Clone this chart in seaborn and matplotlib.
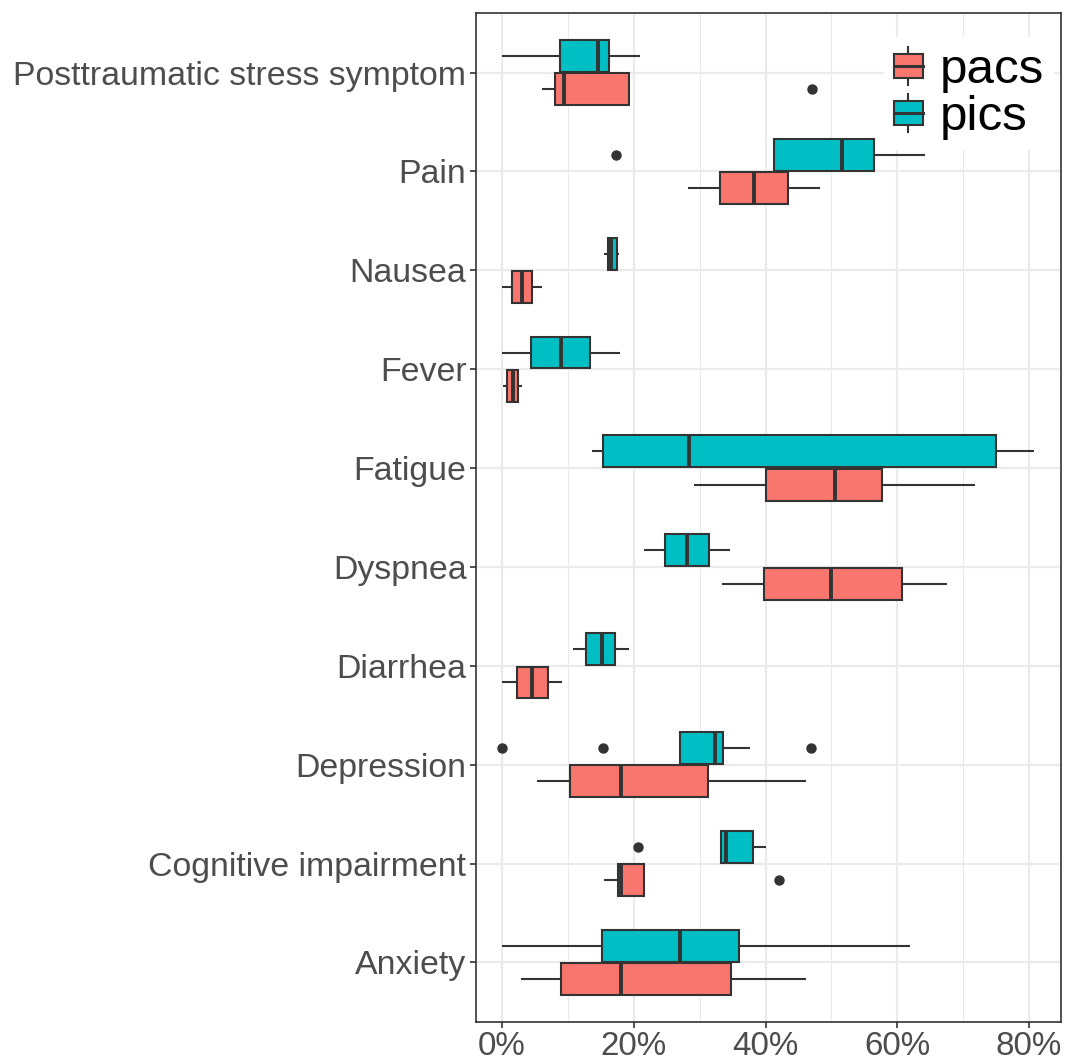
import matplotlib
matplotlib.use('Agg')
import matplotlib.pyplot as plt
import pandas as pd
import seaborn as sns
from matplotlib.legend_handler import HandlerBase
from matplotlib.patches import Patch, Rectangle
from matplotlib.lines import Line2D
from matplotlib.ticker import PercentFormatter

# Categories, top to bottom
symptoms = ['Posttraumatic stress symptom', 'Pain', 'Nausea', 'Fever', 'Fatigue',
            'Dyspnea', 'Diarrhea', 'Depression', 'Cognitive impairment', 'Anxiety']

# Box summaries (percent): whisker low, Q1, median, Q3, whisker high, outliers
pacs_low = [6.0, 28.2, 0.0, 0.2, 29.1, 33.4, 0.0, 5.3, 15.4, 2.9]
pacs_q1 = [8.0, 33.1, 1.5, 0.8, 40.0, 39.7, 2.2, 10.3, 17.6, 9.0]
pacs_med = [9.4, 38.3, 3.0, 1.6, 50.5, 50.0, 4.6, 18.0, 18.1, 18.1]
pacs_q3 = [19.3, 43.4, 4.6, 2.4, 57.7, 60.7, 6.9, 31.3, 21.5, 34.7]
pacs_high = [19.3, 48.3, 6.1, 3.0, 71.8, 67.6, 9.1, 46.2, 21.5, 46.1]
pacs_out = [[47.0], [], [], [], [], [], [], [], [42.0], []]

pics_low = [0.0, 41.2, 15.5, 0.0, 13.6, 21.6, 10.8, 27.0, 33.2, 0.0]
pics_q1 = [8.8, 41.2, 16.0, 4.4, 15.3, 24.8, 12.8, 27.0, 33.2, 15.1]
pics_med = [14.5, 51.6, 16.6, 8.9, 28.4, 28.1, 15.1, 32.3, 34.0, 27.0]
pics_q3 = [16.2, 56.5, 17.4, 13.4, 75.0, 31.4, 17.2, 33.5, 38.1, 35.9]
pics_high = [21.0, 64.2, 17.8, 17.9, 80.8, 34.6, 19.2, 37.6, 40.0, 61.9]
pics_out = [[], [17.3], [], [], [], [], [], [0.0, 15.3, 46.9], [20.6], []]

colors = {'pacs': '#F8766D', 'pics': '#00BFC4'}


def sample(lo, q1, med, q3, hi, outs):
    # 13 values whose quartiles (linear) land exactly on q1/med/q3
    below = sorted(v for v in outs if v < q1)
    above = sorted(v for v in outs if v > q3)
    return (below + [lo] * (3 - len(below)) + [q1] * 3 + [med] * 3 + [q3]
            + [hi] * (3 - len(above)) + above)


rows = []
for group, lo, q1, md, q3, hi, out in [
        ('pacs', pacs_low, pacs_q1, pacs_med, pacs_q3, pacs_high, pacs_out),
        ('pics', pics_low, pics_q1, pics_med, pics_q3, pics_high, pics_out)]:
    for i, s in enumerate(symptoms):
        for v in sample(lo[i], q1[i], md[i], q3[i], hi[i], out[i]):
            rows.append((s, group, v))
df = pd.DataFrame(rows, columns=['symptom', 'group', 'value'])

plt.rcParams['font.family'] = ['Liberation Sans', 'DejaVu Sans']

fig = plt.figure(figsize=(10.66, 10.62), dpi=100)
ax = fig.add_axes([475.5 / 1066, 1 - 1021.7 / 1062, (1061 - 475.5) / 1066, (1021.7 - 13.3) / 1062])

sns.boxplot(data=df, x='value', y='symptom', hue='group', order=symptoms,
            hue_order=['pics', 'pacs'], palette=colors, width=0.675, gap=0.045,
            linewidth=1.5, linecolor='#333333', showcaps=False, whis=1.5,
            fliersize=6.5, saturation=1,
            flierprops=dict(marker='o', markerfacecolor='#333333', markeredgecolor='#333333'),
            medianprops=dict(linewidth=2.8),
            legend=False, ax=ax)

ax.set_xlim(-4.04, 84.84)
ax.set_ylim(9.6, -0.6)
ax.set_xticks([0, 20, 40, 60, 80])
ax.set_xticks([10, 30, 50, 70], minor=True)
ax.xaxis.set_major_formatter(PercentFormatter(decimals=0))
ax.set_xlabel('')
ax.set_ylabel('')

ax.set_axisbelow(True)
ax.grid(which='major', color='#EBEBEB', linewidth=1.6)
ax.grid(which='minor', axis='x', color='#EBEBEB', linewidth=0.8)
ax.tick_params(which='major', length=4.5, width=1.2, color='#333333',
               labelcolor='#4D4D4D', pad=2)
ax.tick_params(axis='y', which='major', labelsize=24.4)
ax.tick_params(axis='x', which='major', labelsize=23.9)
ax.tick_params(which='minor', length=0)
for sp in ax.spines.values():
    sp.set_color('#333333')
    sp.set_linewidth(1.2)


class BoxKey(HandlerBase):
    def create_artists(self, legend, orig_handle, xdescent, ydescent, width, height, fontsize, trans):
        fc = orig_handle.get_facecolor()
        cx = width / 2 - xdescent
        bh = height * 0.64
        y0 = (height - bh) / 2 - ydescent
        whisk = Line2D([cx, cx], [-ydescent, height - ydescent], color='#333333', lw=1.5, transform=trans)
        box = Rectangle((-xdescent, y0), width, bh, facecolor=fc, edgecolor='#333333', lw=1.5, transform=trans)
        med = Line2D([-xdescent, width - xdescent], [y0 + bh / 2] * 2, color='#333333', lw=2.2, transform=trans)
        return [whisk, box, med]


handles = [Patch(facecolor=colors['pacs']), Patch(facecolor=colors['pics'])]
leg = ax.legend(handles, ['pacs', 'pics'], handler_map={Patch: BoxKey()},
                loc='upper right', bbox_to_anchor=(1054 / 1066, 1 - 37 / 1062),
                bbox_transform=fig.transFigure, fontsize=35.5, frameon=True,
                framealpha=1, edgecolor='none', facecolor='white', fancybox=False,
                handlelength=0.59, handleheight=0.81, handletextpad=0.35,
                labelspacing=0.02, borderpad=0.2, borderaxespad=0)

fig.savefig('out.png', dpi=100)
